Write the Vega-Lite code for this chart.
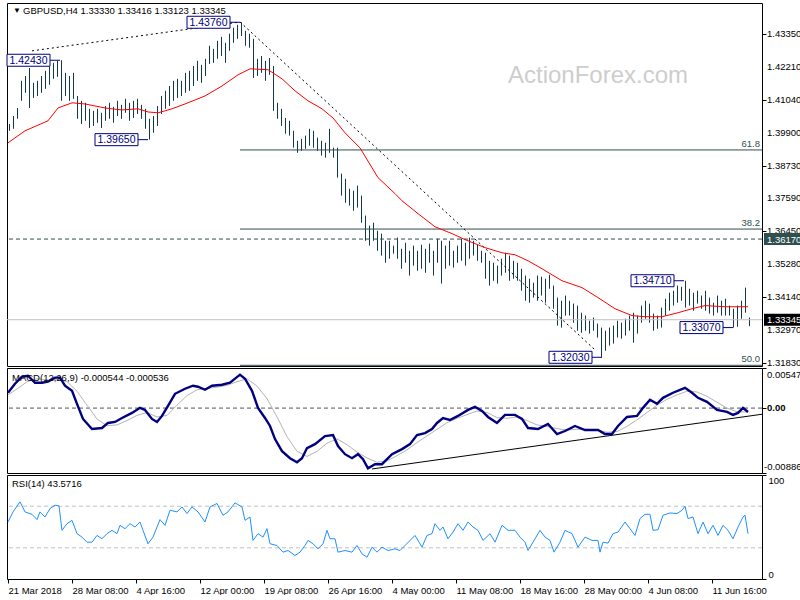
{
  "$schema": "https://vega.github.io/schema/vega-lite/v6.json",
  "padding": {"left": 2, "top": 2, "right": 0, "bottom": 0},
  "background": "white",
  "spacing": 2,
  "bounds": "flush",
  "resolve": {"scale": {"x": "independent", "y": "independent"}},
  "config": {
    "view": {"stroke": "black", "strokeWidth": 1},
    "axis": {"labelFont": "Liberation Sans", "labelFontSize": 9.5, "labelColor": "black", "tickColor": "black", "domain": false, "grid": false, "title": null, "tickSize": 4, "labelPadding": 2, "labelOverlap": false, "labelBound": false},
    "text": {"font": "Liberation Sans"}
  },
  "datasets": {
    "bars": [
      {"t":1,"h":1.4020,"l":1.3996},{"t":3,"h":1.4048,"l":1.4003},{"t":5,"h":1.4076,"l":1.4038},{"t":7,"h":1.4171,"l":1.4101},
      {"t":9,"h":1.4188,"l":1.4129},{"t":11,"h":1.4216,"l":1.4076},{"t":13,"h":1.4164,"l":1.4111},{"t":15,"h":1.4171,"l":1.4118},
      {"t":17,"h":1.4188,"l":1.4129},{"t":19,"h":1.4206,"l":1.4143},{"t":21,"h":1.4220,"l":1.4157},{"t":23,"h":1.4234,"l":1.4178},
      {"t":25,"h":1.4241,"l":1.4185},{"t":27,"h":1.4243,"l":1.4101},{"t":29,"h":1.4199,"l":1.4118},{"t":31,"h":1.4188,"l":1.4101},
      {"t":33,"h":1.4199,"l":1.4108},{"t":35,"h":1.4118,"l":1.4038},{"t":37,"h":1.4101,"l":1.4020},{"t":39,"h":1.4094,"l":1.4031},
      {"t":41,"h":1.4073,"l":1.4006},{"t":43,"h":1.4066,"l":1.4013},{"t":45,"h":1.4073,"l":1.4024},{"t":47,"h":1.4059,"l":1.4006},
      {"t":49,"h":1.4083,"l":1.4031},{"t":51,"h":1.4094,"l":1.4038},{"t":53,"h":1.4080,"l":1.4024},{"t":55,"h":1.4101,"l":1.4048},
      {"t":57,"h":1.4087,"l":1.4038},{"t":59,"h":1.4108,"l":1.4059},{"t":61,"h":1.4094,"l":1.4031},{"t":63,"h":1.4101,"l":1.4041},
      {"t":65,"h":1.4108,"l":1.4055},{"t":67,"h":1.4087,"l":1.4038},{"t":69,"h":1.4073,"l":1.4003},{"t":71,"h":1.4038,"l":1.3965},
      {"t":73,"h":1.4048,"l":1.3989},{"t":75,"h":1.4083,"l":1.4013},{"t":77,"h":1.4118,"l":1.4055},{"t":79,"h":1.4136,"l":1.4073},
      {"t":81,"h":1.4153,"l":1.4083},{"t":83,"h":1.4171,"l":1.4101},{"t":85,"h":1.4178,"l":1.4111},{"t":87,"h":1.4171,"l":1.4118},
      {"t":89,"h":1.4199,"l":1.4129},{"t":91,"h":1.4206,"l":1.4136},{"t":93,"h":1.4223,"l":1.4153},{"t":95,"h":1.4241,"l":1.4171},
      {"t":97,"h":1.4227,"l":1.4164},{"t":99,"h":1.4248,"l":1.4188},{"t":101,"h":1.4294,"l":1.4230},{"t":103,"h":1.4283,"l":1.4234},
      {"t":105,"h":1.4311,"l":1.4248},{"t":107,"h":1.4325,"l":1.4258},{"t":109,"h":1.4304,"l":1.4234},{"t":111,"h":1.4336,"l":1.4276},
      {"t":113,"h":1.4357,"l":1.4304},{"t":115,"h":1.4367,"l":1.4318},{"t":117,"h":1.4376,"l":1.4328},{"t":119,"h":1.4346,"l":1.4294},
      {"t":121,"h":1.4336,"l":1.4287},{"t":123,"h":1.4318,"l":1.4181},{"t":125,"h":1.4248,"l":1.4188},{"t":127,"h":1.4258,"l":1.4199},
      {"t":129,"h":1.4241,"l":1.4171},{"t":131,"h":1.4251,"l":1.4192},{"t":133,"h":1.4223,"l":1.4066},{"t":135,"h":1.4094,"l":1.4038},
      {"t":137,"h":1.4073,"l":1.4013},{"t":139,"h":1.4041,"l":1.3986},{"t":141,"h":1.4031,"l":1.3979},{"t":143,"h":1.3996,"l":1.3937},
      {"t":145,"h":1.3961,"l":1.3919},{"t":147,"h":1.3968,"l":1.3926},{"t":149,"h":1.3979,"l":1.3933},{"t":151,"h":1.4003,"l":1.3944},
      {"t":153,"h":1.3996,"l":1.3937},{"t":155,"h":1.3972,"l":1.3926},{"t":157,"h":1.3961,"l":1.3909},{"t":159,"h":1.3954,"l":1.3902},
      {"t":161,"h":1.4003,"l":1.3919},{"t":163,"h":1.3937,"l":1.3902},{"t":165,"h":1.3937,"l":1.3832},{"t":167,"h":1.3846,"l":1.3769},
      {"t":169,"h":1.3828,"l":1.3744},{"t":171,"h":1.3793,"l":1.3734},{"t":173,"h":1.3786,"l":1.3716},{"t":175,"h":1.3804,"l":1.3727},
      {"t":177,"h":1.3769,"l":1.3674},{"t":179,"h":1.3699,"l":1.3611},{"t":181,"h":1.3664,"l":1.3594},{"t":183,"h":1.3674,"l":1.3611},
      {"t":185,"h":1.3646,"l":1.3576},{"t":187,"h":1.3636,"l":1.3559},{"t":189,"h":1.3611,"l":1.3534},{"t":191,"h":1.3611,"l":1.3548},
      {"t":193,"h":1.3594,"l":1.3566},{"t":195,"h":1.3622,"l":1.3548},{"t":197,"h":1.3583,"l":1.3513},{"t":199,"h":1.3604,"l":1.3534},
      {"t":201,"h":1.3576,"l":1.3489},{"t":203,"h":1.3594,"l":1.3524},{"t":205,"h":1.3576,"l":1.3506},{"t":207,"h":1.3597,"l":1.3513},
      {"t":209,"h":1.3583,"l":1.3499},{"t":211,"h":1.3601,"l":1.3534},{"t":213,"h":1.3576,"l":1.3489},{"t":215,"h":1.3618,"l":1.3534},
      {"t":217,"h":1.3611,"l":1.3461},{"t":219,"h":1.3594,"l":1.3513},{"t":221,"h":1.3611,"l":1.3524},{"t":223,"h":1.3576,"l":1.3517},
      {"t":225,"h":1.3594,"l":1.3534},{"t":227,"h":1.3618,"l":1.3541},{"t":229,"h":1.3604,"l":1.3524},{"t":231,"h":1.3622,"l":1.3548},
      {"t":233,"h":1.3611,"l":1.3559},{"t":235,"h":1.3597,"l":1.3541},{"t":237,"h":1.3576,"l":1.3534},{"t":239,"h":1.3569,"l":1.3478},
      {"t":241,"h":1.3541,"l":1.3454},{"t":243,"h":1.3534,"l":1.3471},{"t":245,"h":1.3524,"l":1.3461},{"t":247,"h":1.3548,"l":1.3489},
      {"t":249,"h":1.3569,"l":1.3499},{"t":251,"h":1.3559,"l":1.3471},{"t":253,"h":1.3541,"l":1.3478},{"t":255,"h":1.3534,"l":1.3471},
      {"t":257,"h":1.3513,"l":1.3436},{"t":259,"h":1.3489,"l":1.3401},{"t":261,"h":1.3478,"l":1.3394},{"t":263,"h":1.3464,"l":1.3412},
      {"t":265,"h":1.3489,"l":1.3401},{"t":267,"h":1.3485,"l":1.3419},{"t":269,"h":1.3478,"l":1.3394},{"t":271,"h":1.3492,"l":1.3443},
      {"t":273,"h":1.3454,"l":1.3373},{"t":275,"h":1.3412,"l":1.3314},{"t":277,"h":1.3401,"l":1.3307},{"t":279,"h":1.3419,"l":1.3349},
      {"t":281,"h":1.3401,"l":1.3349},{"t":283,"h":1.3391,"l":1.3324},{"t":285,"h":1.3384,"l":1.3296},{"t":287,"h":1.3359,"l":1.3289},
      {"t":289,"h":1.3349,"l":1.3296},{"t":291,"h":1.3331,"l":1.3286},{"t":293,"h":1.3342,"l":1.3296},{"t":295,"h":1.3321,"l":1.3272},
      {"t":297,"h":1.3307,"l":1.3203},{"t":299,"h":1.3296,"l":1.3226},{"t":301,"h":1.3307,"l":1.3244},{"t":303,"h":1.3314,"l":1.3251},
      {"t":305,"h":1.3331,"l":1.3272},{"t":307,"h":1.3324,"l":1.3268},{"t":309,"h":1.3338,"l":1.3279},{"t":311,"h":1.3349,"l":1.3296},
      {"t":313,"h":1.3359,"l":1.3254},{"t":315,"h":1.3349,"l":1.3286},{"t":317,"h":1.3384,"l":1.3324},{"t":319,"h":1.3401,"l":1.3338},
      {"t":321,"h":1.3391,"l":1.3324},{"t":323,"h":1.3356,"l":1.3296},{"t":325,"h":1.3349,"l":1.3303},{"t":327,"h":1.3377,"l":1.3307},
      {"t":329,"h":1.3408,"l":1.3349},{"t":331,"h":1.3429,"l":1.3366},{"t":333,"h":1.3436,"l":1.3384},{"t":335,"h":1.3454,"l":1.3394},
      {"t":337,"h":1.3450,"l":1.3401},{"t":339,"h":1.3471,"l":1.3377},{"t":341,"h":1.3443,"l":1.3384},{"t":343,"h":1.3429,"l":1.3366},
      {"t":345,"h":1.3436,"l":1.3391},{"t":347,"h":1.3419,"l":1.3373},{"t":349,"h":1.3436,"l":1.3366},{"t":351,"h":1.3412,"l":1.3356},
      {"t":353,"h":1.3394,"l":1.3349},{"t":355,"h":1.3419,"l":1.3359},{"t":357,"h":1.3401,"l":1.3349},{"t":359,"h":1.3408,"l":1.3349},
      {"t":361,"h":1.3384,"l":1.3349},{"t":363,"h":1.3373,"l":1.3307},{"t":365,"h":1.3384,"l":1.3310},{"t":367,"h":1.3401,"l":1.3338},
      {"t":369,"h":1.3447,"l":1.3359},{"t":371,"h":1.3342,"l":1.3312}
    ],
    "ma": [
      {"t":0.5,"v":1.3954},{"t":9,"v":1.3996},{"t":20.5,"v":1.4031},{"t":25.5,"v":1.4076},{"t":32.5,"v":1.4094},{"t":39,"v":1.4090},
      {"t":49,"v":1.4076},{"t":57.5,"v":1.4069},{"t":65.5,"v":1.4073},{"t":70.5,"v":1.4062},{"t":75.5,"v":1.4059},{"t":82.5,"v":1.4073},
      {"t":89,"v":1.4090},{"t":99,"v":1.4118},{"t":107.5,"v":1.4153},{"t":115.5,"v":1.4192},{"t":121.5,"v":1.4213},{"t":130.5,"v":1.4210},
      {"t":137.5,"v":1.4178},{"t":144,"v":1.4136},{"t":150.5,"v":1.4101},{"t":157.5,"v":1.4073},{"t":163,"v":1.4041},{"t":169,"v":1.3989},
      {"t":176.5,"v":1.3936},{"t":185.5,"v":1.3832},{"t":194,"v":1.3776},{"t":197.5,"v":1.3751},{"t":205.5,"v":1.3706},{"t":214,"v":1.3660},
      {"t":222.5,"v":1.3636},{"t":229,"v":1.3615},{"t":239,"v":1.3587},{"t":247.5,"v":1.3569},{"t":254,"v":1.3562},{"t":260.5,"v":1.3541},
      {"t":267.5,"v":1.3513},{"t":277.5,"v":1.3471},{"t":287.5,"v":1.3447},{"t":295.5,"v":1.3412},{"t":304,"v":1.3373},{"t":312.5,"v":1.3349},
      {"t":319,"v":1.3345},{"t":327.5,"v":1.3345},{"t":335.5,"v":1.3359},{"t":342.5,"v":1.3373},{"t":349,"v":1.3384},{"t":359,"v":1.3380},
      {"t":370.5,"v":1.3380}
    ],
    "swings": [
      {"t":26.5,"p":1.4243,"lab":"1.42430"},{"t":116.5,"p":1.4376,"lab":"1.43760"},{"t":70.5,"p":1.3965,"lab":"1.39650"},
      {"t":297.5,"p":1.3203,"lab":"1.32030"},{"t":338.5,"p":1.3471,"lab":"1.34710"},{"t":363,"p":1.3307,"lab":"1.33070"}
    ],
    "trend": [
      {"t1":12.5,"p1":1.4276,"t2":116.5,"p2":1.4377},
      {"t1":116.5,"p1":1.4377,"t2":294,"p2":1.3229}
    ],
    "fib": [
      {"lab":"61.8","p":1.3929},{"lab":"38.2","p":1.3652},{"lab":"50.0","p":1.3175}
    ],
    "tags": [
      {"kind":"level","p":1.3617,"lab":"1.36170"},{"kind":"last","p":1.33345,"lab":"1.33345"}
    ],
    "pticks": [
      {"v":1.4335},{"v":1.4221},{"v":1.4104},{"v":1.399},{"v":1.3873},{"v":1.3759},{"v":1.3645},{"v":1.3528},{"v":1.3414},{"v":1.3297},{"v":1.3183}
    ],
    "macd": [
      {"t":0.5,"m":0.00209},{"t":4,"m":0.00332},{"t":7.5,"m":0.00428},{"t":10.5,"m":0.00442},{"t":14,"m":0.00346},{"t":17.5,"m":0.00346},
      {"t":20.5,"m":0.00360},{"t":24,"m":0.00415},{"t":26.5,"m":0.00415},{"t":29,"m":0.00305},{"t":32.5,"m":0.00236},{"t":35,"m":0.00058},
      {"t":38,"m":-0.00148},{"t":42.5,"m":-0.00286},{"t":47.5,"m":-0.00272},{"t":50.5,"m":-0.00203},{"t":54,"m":-0.00189},{"t":57.5,"m":-0.00135},
      {"t":62.5,"m":-0.00066},{"t":66.5,"m":0.00003},{"t":69,"m":-0.00025},{"t":72.5,"m":-0.00148},{"t":75,"m":-0.00189},{"t":77.5,"m":-0.00107},
      {"t":80.5,"m":0.00030},{"t":84,"m":0.00195},{"t":89,"m":0.00264},{"t":93,"m":0.00305},{"t":95.5,"m":0.00291},{"t":99,"m":0.00250},
      {"t":102.5,"m":0.00305},{"t":107.5,"m":0.00319},{"t":111.5,"m":0.00346},{"t":116.5,"m":0.00456},{"t":119,"m":0.00401},{"t":122.5,"m":0.00236},
      {"t":125.5,"m":0.00003},{"t":129,"m":-0.00135},{"t":131.5,"m":-0.00244},{"t":134,"m":-0.00423},{"t":137.5,"m":-0.00588},{"t":141.5,"m":-0.00684},
      {"t":145,"m":-0.00739},{"t":147.5,"m":-0.00684},{"t":150,"m":-0.00546},{"t":154,"m":-0.00492},{"t":159,"m":-0.00382},{"t":163,"m":-0.00368},
      {"t":165.5,"m":-0.00519},{"t":169,"m":-0.00629},{"t":172.5,"m":-0.00684},{"t":175.5,"m":-0.00629},{"t":178,"m":-0.00697},{"t":180.5,"m":-0.00821},
      {"t":184,"m":-0.00766},{"t":187.5,"m":-0.00766},{"t":192.5,"m":-0.00629},{"t":197.5,"m":-0.00560},{"t":201.5,"m":-0.00492},{"t":205,"m":-0.00368},
      {"t":209,"m":-0.00341},{"t":212.5,"m":-0.00286},{"t":215,"m":-0.00203},{"t":218,"m":-0.00135},{"t":221.5,"m":-0.00162},{"t":225.5,"m":-0.00107},
      {"t":230.5,"m":-0.00025},{"t":234,"m":0.00016},{"t":237.5,"m":-0.00038},{"t":240.5,"m":-0.00121},{"t":245,"m":-0.00203},{"t":249,"m":-0.00093},
      {"t":254,"m":-0.00093},{"t":257.5,"m":-0.00148},{"t":260.5,"m":-0.00272},{"t":265.5,"m":-0.00286},{"t":270.5,"m":-0.00217},{"t":275,"m":-0.00354},
      {"t":279,"m":-0.00313},{"t":284,"m":-0.00244},{"t":289,"m":-0.00299},{"t":295.5,"m":-0.00299},{"t":299,"m":-0.00354},{"t":302.5,"m":-0.00354},
      {"t":305.5,"m":-0.00244},{"t":310,"m":-0.00121},{"t":315,"m":-0.00107},{"t":318,"m":0.00003},{"t":321.5,"m":0.00113},{"t":325,"m":0.00058},
      {"t":328,"m":0.00140},{"t":333,"m":0.00209},{"t":339,"m":0.00277},{"t":342.5,"m":0.00209},{"t":345.5,"m":0.00140},{"t":350,"m":0.00085},
      {"t":355,"m":-0.00025},{"t":360,"m":-0.00052},{"t":363,"m":-0.00093},{"t":365.5,"m":-0.00066},{"t":368,"m":0.00003},{"t":370.5,"m":-0.00054}
    ],
    "signal": [
      {"t":0.5,"s":0.00180},{"t":5,"s":0.00260},{"t":10,"s":0.00360},{"t":15,"s":0.00400},{"t":20,"s":0.00385},{"t":25,"s":0.00395},
      {"t":30,"s":0.00360},{"t":35,"s":0.00230},{"t":40,"s":0.00040},{"t":45,"s":-0.00150},{"t":50,"s":-0.00240},{"t":55,"s":-0.00230},
      {"t":60,"s":-0.00170},{"t":65,"s":-0.00100},{"t":70,"s":-0.00060},{"t":75,"s":-0.00120},{"t":80,"s":-0.00100},{"t":85,"s":0.00040},
      {"t":90,"s":0.00170},{"t":95,"s":0.00250},{"t":100,"s":0.00270},{"t":105,"s":0.00285},{"t":110,"s":0.00310},{"t":115,"s":0.00360},
      {"t":120,"s":0.00400},{"t":125,"s":0.00300},{"t":130,"s":0.00130},{"t":135,"s":-0.00120},{"t":140,"s":-0.00390},{"t":145,"s":-0.00590},
      {"t":150,"s":-0.00660},{"t":155,"s":-0.00590},{"t":160,"s":-0.00480},{"t":165,"s":-0.00420},{"t":170,"s":-0.00500},{"t":175,"s":-0.00600},
      {"t":180,"s":-0.00680},{"t":185,"s":-0.00740},{"t":190,"s":-0.00720},{"t":195,"s":-0.00650},{"t":200,"s":-0.00570},{"t":205,"s":-0.00470},
      {"t":210,"s":-0.00380},{"t":215,"s":-0.00290},{"t":220,"s":-0.00200},{"t":225,"s":-0.00140},{"t":230,"s":-0.00090},{"t":235,"s":-0.00040},
      {"t":240,"s":-0.00060},{"t":245,"s":-0.00130},{"t":250,"s":-0.00140},{"t":255,"s":-0.00120},{"t":260,"s":-0.00170},{"t":265,"s":-0.00230},
      {"t":270,"s":-0.00250},{"t":275,"s":-0.00280},{"t":280,"s":-0.00300},{"t":285,"s":-0.00290},{"t":290,"s":-0.00290},{"t":295,"s":-0.00300},
      {"t":300,"s":-0.00330},{"t":305,"s":-0.00320},{"t":310,"s":-0.00250},{"t":315,"s":-0.00160},{"t":320,"s":-0.00060},{"t":325,"s":0.00040},
      {"t":330,"s":0.00120},{"t":335,"s":0.00180},{"t":340,"s":0.00230},{"t":345,"s":0.00220},{"t":350,"s":0.00160},{"t":355,"s":0.00080},
      {"t":360,"s":0.00000},{"t":365,"s":-0.00050},{"t":370.5,"s":-0.00054}
    ],
    "mtrend": [{"t1":182.5,"v1":-0.00831,"t2":377.5,"v2":-0.00084}],
    "rsi": [
      {"t":0.5,"r":54.8},{"t":3,"r":64.5},{"t":6.5,"r":74.2},{"t":9,"r":64.5},{"t":12.5,"r":62.2},{"t":15,"r":57.1},{"t":16.5,"r":64.5},
      {"t":19,"r":59.6},{"t":21.5,"r":67.7},{"t":24,"r":71},{"t":26,"r":70.3},{"t":27.5,"r":46.8},{"t":30,"r":53.2},{"t":32.5,"r":56.4},
      {"t":35,"r":43.6},{"t":37.5,"r":40.3},{"t":40,"r":35.4},{"t":42.5,"r":35.4},{"t":45,"r":41.9},{"t":47.5,"r":38.7},{"t":50,"r":43.6},
      {"t":52.5,"r":46.8},{"t":55,"r":43.6},{"t":56.5,"r":51.6},{"t":59,"r":48.4},{"t":61.5,"r":53.2},{"t":64,"r":50},{"t":66.5,"r":54.8},
      {"t":68,"r":46.8},{"t":70.5,"r":33.9},{"t":73,"r":40.3},{"t":76.5,"r":57.1},{"t":79,"r":51.6},{"t":81.5,"r":66.1},{"t":85,"r":64.5},
      {"t":87.5,"r":69.3},{"t":90,"r":62.9},{"t":92.5,"r":69.3},{"t":95.5,"r":64.5},{"t":99,"r":54.8},{"t":101.5,"r":69.3},{"t":105,"r":72.6},
      {"t":108,"r":61.3},{"t":110.5,"r":64.5},{"t":114,"r":73.2},{"t":117.5,"r":69.3},{"t":119,"r":56.4},{"t":121.5,"r":59.6},{"t":123,"r":37.1},
      {"t":125.5,"r":43.6},{"t":128,"r":40.3},{"t":130,"r":48.4},{"t":131.5,"r":33.9},{"t":135,"r":32.2},{"t":138,"r":25.8},{"t":140.5,"r":27.4},
      {"t":144,"r":22.6},{"t":146.5,"r":25.8},{"t":149,"r":32.2},{"t":150.5,"r":37.1},{"t":153,"r":33.9},{"t":155.5,"r":29},{"t":158,"r":33.9},
      {"t":160,"r":46.8},{"t":161.5,"r":38.7},{"t":164,"r":38.7},{"t":165.5,"r":25.8},{"t":169,"r":27.4},{"t":172.5,"r":25.8},{"t":175,"r":32.2},
      {"t":177.5,"r":24.2},{"t":180,"r":20.9},{"t":182.5,"r":30.6},{"t":185,"r":25.8},{"t":187.5,"r":30.6},{"t":190.5,"r":27.4},{"t":194,"r":29},
      {"t":196.5,"r":27.4},{"t":199,"r":32.2},{"t":204,"r":41.9},{"t":207.5,"r":30.6},{"t":210,"r":41.9},{"t":212.5,"r":43.6},{"t":214,"r":53.2},
      {"t":216.5,"r":46.8},{"t":218,"r":50},{"t":220.5,"r":38.7},{"t":223,"r":45.1},{"t":225.5,"r":53.2},{"t":228,"r":46.8},{"t":230.5,"r":54.8},
      {"t":233,"r":50},{"t":235.5,"r":46.8},{"t":238,"r":37.1},{"t":241.5,"r":43.6},{"t":244,"r":35.4},{"t":247.5,"r":51.6},{"t":250.5,"r":46.8},
      {"t":254,"r":46.8},{"t":256.5,"r":40.3},{"t":259,"r":35.4},{"t":260.5,"r":27.4},{"t":263,"r":35.4},{"t":266.5,"r":46.8},{"t":269,"r":40.3},
      {"t":271.5,"r":37.1},{"t":273.5,"r":25.8},{"t":276.5,"r":35.4},{"t":279,"r":46.8},{"t":282.5,"r":43.6},{"t":285.5,"r":30.6},{"t":289,"r":40.3},
      {"t":292.5,"r":37.1},{"t":295.5,"r":37.1},{"t":296.5,"r":25.8},{"t":298,"r":35.4},{"t":300.5,"r":34.5},{"t":303,"r":43.6},{"t":305.5,"r":45.1},
      {"t":309,"r":54.8},{"t":311.5,"r":48.4},{"t":314,"r":41.9},{"t":316.5,"r":58.1},{"t":319,"r":62.2},{"t":321.5,"r":62.2},{"t":323,"r":46.8},
      {"t":325.5,"r":47.4},{"t":328,"r":61.3},{"t":331.5,"r":63.5},{"t":335,"r":62.9},{"t":337.5,"r":66.1},{"t":339,"r":70},{"t":340.5,"r":58.1},
      {"t":343,"r":59.6},{"t":345.5,"r":43.6},{"t":348,"r":54.8},{"t":350.5,"r":43.6},{"t":353,"r":51.6},{"t":355.5,"r":41.9},{"t":358,"r":51.6},
      {"t":360.5,"r":46.8},{"t":363,"r":38.7},{"t":365.5,"r":50},{"t":368,"r":59.6},{"t":369,"r":61.3},{"t":370.5,"r":43.57}
    ]
  },
  "vconcat": [
    {
      "width": 755,
      "height": 363,
      "layer": [
        {
          "data": {"name": "bars"},
          "mark": {"type": "rule", "color": "#153848", "strokeWidth": 1, "xOffset": 0.5},
          "encoding": {
            "x": {"field": "t", "type": "quantitative", "scale": {"domain": [0, 377.5], "nice": false, "zero": false}, "axis": null},
            "y": {"field": "h", "type": "quantitative", "scale": {"domain": [1.31725, 1.44435], "nice": false, "zero": false},
                  "axis": {"orient": "right", "labels": false, "values": [1.4335, 1.4221, 1.4104, 1.399, 1.3873, 1.3759, 1.3645, 1.3528, 1.3414, 1.3297, 1.3183]}},
            "y2": {"field": "l"}
          }
        },
        {
          "data": {"name": "pticks"},
          "mark": {"type": "text", "color": "black", "align": "left", "baseline": "middle", "dx": 5, "fontSize": 9.5},
          "encoding": {
            "x": {"datum": 377.5, "type": "quantitative"},
            "y": {"field": "v", "type": "quantitative"},
            "text": {"field": "v", "type": "quantitative", "format": ".5f"}
          }
        },
        {
          "data": {"values": [{}]},
          "mark": {"type": "rule", "color": "#c0c0c0", "strokeWidth": 1},
          "encoding": {"y": {"datum": 1.33345, "type": "quantitative"}}
        },
        {
          "data": {"values": [{}]},
          "mark": {"type": "rule", "color": "#2f4f4f", "strokeWidth": 1, "strokeDash": [4, 3]},
          "encoding": {"y": {"datum": 1.3617, "type": "quantitative"}}
        },
        {
          "data": {"name": "fib"},
          "mark": {"type": "rule", "color": "#2f4f4f", "strokeWidth": 1},
          "encoding": {
            "x": {"datum": 116.5, "type": "quantitative"},
            "x2": {"datum": 377.5},
            "y": {"field": "p", "type": "quantitative"}
          }
        },
        {
          "data": {"name": "fib"},
          "mark": {"type": "text", "color": "#2f4f4f", "align": "right", "baseline": "bottom", "dx": -2, "dy": -1, "fontSize": 9.5},
          "encoding": {
            "x": {"datum": 377.5, "type": "quantitative"},
            "y": {"field": "p", "type": "quantitative"},
            "text": {"field": "lab"}
          }
        },
        {
          "data": {"name": "trend"},
          "mark": {"type": "rule", "color": "black", "strokeWidth": 1, "strokeDash": [2, 3]},
          "encoding": {
            "x": {"field": "t1", "type": "quantitative"},
            "x2": {"field": "t2"},
            "y": {"field": "p1", "type": "quantitative"},
            "y2": {"field": "p2"}
          }
        },
        {
          "data": {"name": "ma"},
          "mark": {"type": "line", "color": "#ff0000", "strokeWidth": 1},
          "encoding": {
            "x": {"field": "t", "type": "quantitative"},
            "y": {"field": "v", "type": "quantitative"}
          }
        },
        {
          "data": {"name": "swings"},
          "mark": {"type": "rule", "color": "#000080", "strokeWidth": 1, "xOffset": -11},
          "encoding": {
            "x": {"field": "t", "type": "quantitative"},
            "x2": {"field": "t"},
            "y": {"field": "p", "type": "quantitative"}
          }
        },
        {
          "data": {"name": "swings"},
          "mark": {"type": "rect", "fill": "white", "stroke": "#000080", "strokeWidth": 1, "xOffset": -53, "x2Offset": -10, "yOffset": -6, "y2Offset": 6},
          "encoding": {
            "x": {"field": "t", "type": "quantitative"},
            "x2": {"field": "t"},
            "y": {"field": "p", "type": "quantitative"},
            "y2": {"field": "p"}
          }
        },
        {
          "data": {"name": "swings"},
          "mark": {"type": "text", "color": "#000080", "align": "center", "baseline": "middle", "dx": -31.5, "dy": 0.5, "fontSize": 10.5},
          "encoding": {
            "x": {"field": "t", "type": "quantitative"},
            "y": {"field": "p", "type": "quantitative"},
            "text": {"field": "lab"}
          }
        },
        {
          "data": {"name": "tags"},
          "mark": {"type": "rect", "xOffset": 2, "x2Offset": 43, "yOffset": -6, "y2Offset": 6},
          "encoding": {
            "x": {"datum": 377.5, "type": "quantitative"},
            "x2": {"datum": 377.5},
            "y": {"field": "p", "type": "quantitative"},
            "y2": {"field": "p"},
            "color": {"field": "kind", "type": "nominal", "scale": {"domain": ["level", "last"], "range": ["#2f4f4f", "#000000"]}, "legend": null}
          }
        },
        {
          "data": {"name": "tags"},
          "mark": {"type": "text", "color": "white", "align": "left", "baseline": "middle", "dx": 5, "dy": 0.5, "fontSize": 9.5},
          "encoding": {
            "x": {"datum": 377.5, "type": "quantitative"},
            "y": {"field": "p", "type": "quantitative"},
            "text": {"field": "lab"}
          }
        },
        {
          "data": {"values": [{"txt": "ActionForex.com"}]},
          "mark": {"type": "text", "color": "#cdcdcd", "align": "center", "baseline": "middle", "fontSize": 24},
          "encoding": {
            "x": {"datum": 295.5, "type": "quantitative"},
            "y": {"datum": 1.41885, "type": "quantitative"},
            "text": {"field": "txt"}
          }
        },
        {
          "data": {"values": [{"txt": "▼"}]},
          "mark": {"type": "text", "color": "black", "align": "left", "baseline": "middle", "fontSize": 8},
          "encoding": {
            "x": {"datum": 3, "type": "quantitative"},
            "y": {"datum": 1.4416, "type": "quantitative"},
            "text": {"field": "txt"}
          }
        },
        {
          "data": {"values": [{"txt": "GBPUSD,H4  1.33330 1.33416 1.33123 1.33345"}]},
          "mark": {"type": "text", "color": "black", "align": "left", "baseline": "middle", "fontSize": 9.5},
          "encoding": {
            "x": {"datum": 8, "type": "quantitative"},
            "y": {"datum": 1.4416, "type": "quantitative"},
            "text": {"field": "txt"}
          }
        }
      ]
    },
    {
      "width": 755,
      "height": 105,
      "layer": [
        {
          "data": {"values": [{}]},
          "mark": {"type": "rule", "color": "#555555", "strokeWidth": 1, "strokeDash": [4, 3]},
          "encoding": {
            "y": {"datum": 0, "type": "quantitative", "scale": {"domain": [-0.00886, 0.00547], "nice": false, "zero": false},
                  "axis": {"orient": "right", "labels": false, "values": [0.00547, 0, -0.00886]}}
          }
        },
        {
          "data": {"values": [{"txt": "0.00547"}]},
          "mark": {"type": "text", "color": "black", "align": "left", "baseline": "top", "dx": 5, "dy": 2, "fontSize": 9.5},
          "encoding": {
            "x": {"datum": 377.5, "type": "quantitative"},
            "y": {"datum": 0.00547, "type": "quantitative"},
            "text": {"field": "txt"}
          }
        },
        {
          "data": {"values": [{"txt": "0.00"}]},
          "mark": {"type": "text", "color": "black", "align": "left", "baseline": "middle", "dx": 5, "fontSize": 9.5, "fontWeight": "bold"},
          "encoding": {
            "x": {"datum": 377.5, "type": "quantitative"},
            "y": {"datum": 0, "type": "quantitative"},
            "text": {"field": "txt"}
          }
        },
        {
          "data": {"values": [{"txt": "-0.00886"}]},
          "mark": {"type": "text", "color": "black", "align": "left", "baseline": "bottom", "dx": 2, "dy": -1, "fontSize": 9.5},
          "encoding": {
            "x": {"datum": 377.5, "type": "quantitative"},
            "y": {"datum": -0.00886, "type": "quantitative"},
            "text": {"field": "txt"}
          }
        },
        {
          "data": {"name": "mtrend"},
          "mark": {"type": "rule", "color": "black", "strokeWidth": 1},
          "encoding": {
            "x": {"field": "t1", "type": "quantitative", "scale": {"domain": [0, 377.5], "nice": false, "zero": false}, "axis": null},
            "x2": {"field": "t2"},
            "y": {"field": "v1", "type": "quantitative"},
            "y2": {"field": "v2"}
          }
        },
        {
          "data": {"name": "signal"},
          "mark": {"type": "line", "color": "#b4b4b4", "strokeWidth": 1},
          "encoding": {
            "x": {"field": "t", "type": "quantitative"},
            "y": {"field": "s", "type": "quantitative"}
          }
        },
        {
          "data": {"name": "macd"},
          "mark": {"type": "line", "color": "#000080", "strokeWidth": 2.4},
          "encoding": {
            "x": {"field": "t", "type": "quantitative"},
            "y": {"field": "m", "type": "quantitative"}
          }
        },
        {
          "data": {"values": [{"txt": "MACD(12,26,9) -0.000544 -0.000536"}]},
          "mark": {"type": "text", "color": "black", "align": "left", "baseline": "middle", "fontSize": 9.5},
          "encoding": {
            "x": {"datum": 2.5, "type": "quantitative"},
            "y": {"datum": 0.00415, "type": "quantitative"},
            "text": {"field": "txt"}
          }
        }
      ]
    },
    {
      "width": 755,
      "height": 104,
      "layer": [
        {
          "data": {"values": [{"lv": 70}, {"lv": 30}]},
          "mark": {"type": "rule", "color": "#c0c0c0", "strokeWidth": 1, "strokeDash": [4, 3]},
          "encoding": {
            "y": {"field": "lv", "type": "quantitative", "scale": {"domain": [0, 100], "nice": false, "zero": false},
                  "axis": {"orient": "right", "labelOverlap": false, "values": [100, 70, 30, 0], "labelFlush": true}}
          }
        },
        {
          "data": {"name": "rsi"},
          "mark": {"type": "line", "color": "#1e90ff", "strokeWidth": 1},
          "encoding": {
            "x": {"field": "t", "type": "quantitative", "scale": {"domain": [0, 377.5], "nice": false, "zero": false},
                  "axis": {"orient": "bottom", "labelOverlap": false, "values": [0.5, 32.5, 64.5, 96.5, 128.5, 160.5, 192.5, 224.5, 256.5, 288.5, 320.5, 352.5],
                           "labelAlign": "left", "labelFlush": false,
                           "labelExpr": "['21 Mar 2018','28 Mar 08:00','4 Apr 16:00','12 Apr 00:00','19 Apr 08:00','26 Apr 16:00','4 May 00:00','11 May 08:00','18 May 16:00','28 May 00:00','4 Jun 08:00','11 Jun 16:00'][round((datum.value - 0.5) / 32)]"}},
            "y": {"field": "r", "type": "quantitative"}
          }
        },
        {
          "data": {"values": [{"txt": "RSI(14) 43.5716"}]},
          "mark": {"type": "text", "color": "black", "align": "left", "baseline": "middle", "fontSize": 9.5},
          "encoding": {
            "x": {"datum": 2.5, "type": "quantitative"},
            "y": {"datum": 91.3, "type": "quantitative"},
            "text": {"field": "txt"}
          }
        }
      ]
    }
  ]
}
